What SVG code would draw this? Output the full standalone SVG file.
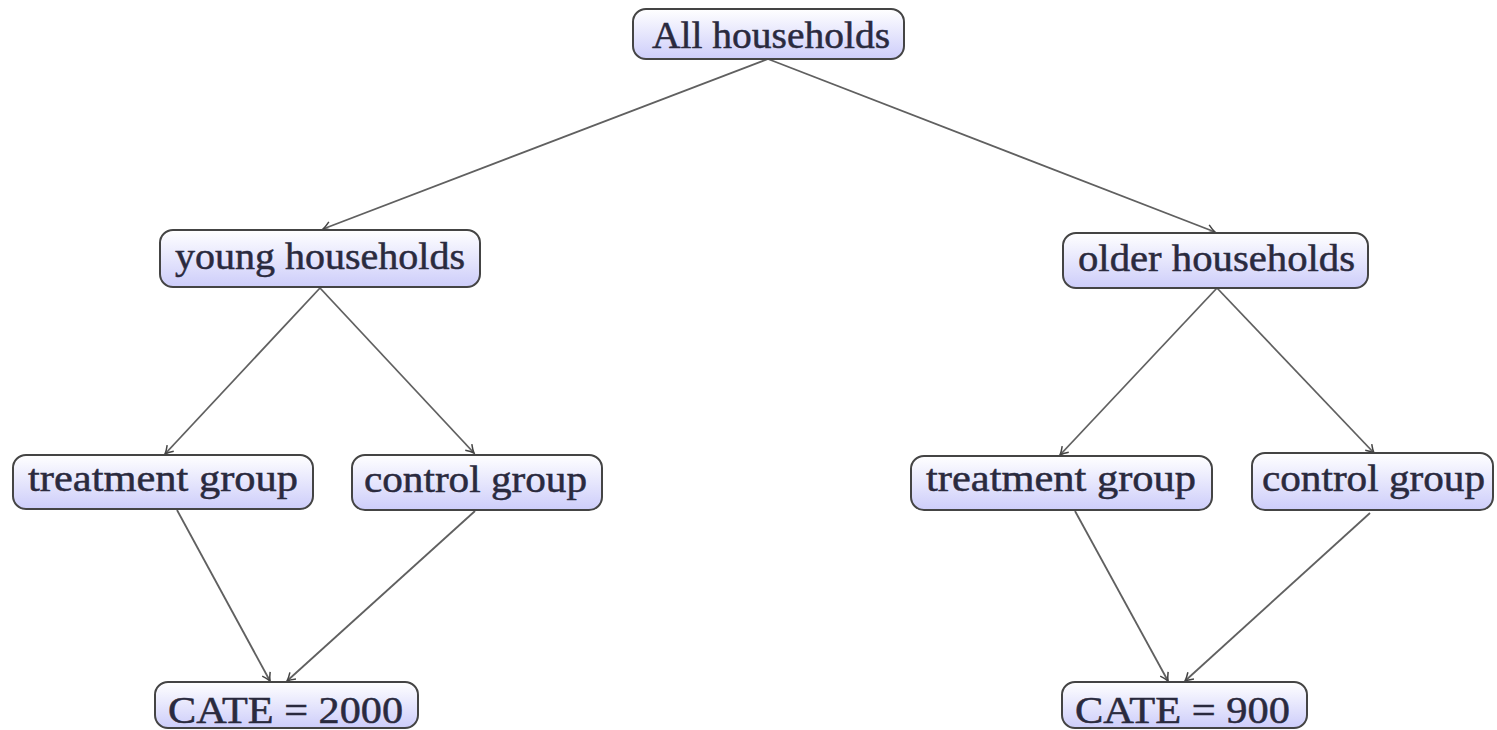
<svg xmlns="http://www.w3.org/2000/svg" width="1497" height="730" viewBox="0 0 1497 730">
  <defs>
    <linearGradient id="boxFill" x1="0" y1="0" x2="0" y2="1">
      <stop offset="0" stop-color="#ffffff"/>
      <stop offset="1" stop-color="#cdcdfa"/>
    </linearGradient>
    <marker id="tip" viewBox="-10 -6 12 12" refX="0" refY="0" markerWidth="12" markerHeight="12" markerUnits="userSpaceOnUse" orient="auto">
      <path d="M-8,-4.5 Q-3,-1 0,0 Q-3,1 -8,4.5" fill="none" stroke="#444" stroke-width="1.5"/>
    </marker>
    <style>
      .box { fill: url(#boxFill); stroke: #444; stroke-width: 2; }
      .lbl { font-family: "Liberation Serif", "DejaVu Serif", serif; font-size: 38px; fill: #2a2a3e; stroke: #2a2a3e; stroke-width: 0.5; text-anchor: start; }
      .edge { fill: none; stroke: #606060; stroke-width: 1.8; marker-end: url(#tip); }
    </style>
  </defs>

  <g id="connectors">
    <line class="edge" x1="768" y1="59" x2="323" y2="229"/>
    <line class="edge" x1="768" y1="59" x2="1215" y2="232"/>
    <line class="edge" x1="320" y1="288" x2="165" y2="454"/>
    <line class="edge" x1="320" y1="288" x2="474" y2="453"/>
    <line class="edge" x1="1217" y1="288" x2="1060" y2="455"/>
    <line class="edge" x1="1217" y1="288" x2="1374" y2="453"/>
    <line class="edge" x1="177" y1="510" x2="270" y2="681"/>
    <line class="edge" x1="475" y1="511" x2="287" y2="681"/>
    <line class="edge" x1="1075" y1="511" x2="1168" y2="681"/>
    <line class="edge" x1="1370" y1="513" x2="1185" y2="681"/>
  </g>

  <g id="all-households">
    <rect class="box" x="633" y="9" width="271" height="50" rx="13"/>
    <text class="lbl" x="652" y="48" textLength="238" lengthAdjust="spacingAndGlyphs">All households</text>
  </g>

  <g id="young-households">
    <rect class="box" x="160" y="230" width="320" height="57" rx="13"/>
    <text class="lbl" x="175" y="269" textLength="290" lengthAdjust="spacingAndGlyphs">young households</text>
  </g>

  <g id="older-households">
    <rect class="box" x="1063" y="233" width="305" height="55" rx="13"/>
    <text class="lbl" x="1078" y="271" textLength="277" lengthAdjust="spacingAndGlyphs">older households</text>
  </g>

  <g id="young-treatment">
    <rect class="box" x="13" y="455" width="300" height="54" rx="13"/>
    <text class="lbl" x="28" y="491" textLength="270" lengthAdjust="spacingAndGlyphs">treatment group</text>
  </g>

  <g id="young-control">
    <rect class="box" x="352" y="455" width="250" height="55" rx="13"/>
    <text class="lbl" x="364" y="492" textLength="223" lengthAdjust="spacingAndGlyphs">control group</text>
  </g>

  <g id="older-treatment">
    <rect class="box" x="911" y="456" width="301" height="54" rx="13"/>
    <text class="lbl" x="926" y="491" textLength="270" lengthAdjust="spacingAndGlyphs">treatment group</text>
  </g>

  <g id="older-control">
    <rect class="box" x="1252" y="453" width="241" height="57" rx="13"/>
    <text class="lbl" x="1262" y="491" textLength="223" lengthAdjust="spacingAndGlyphs">control group</text>
  </g>

  <g id="cate-young">
    <rect class="box" x="155" y="682" width="263" height="46" rx="13"/>
    <text class="lbl" x="168" y="723" textLength="235" lengthAdjust="spacingAndGlyphs">CATE = 2000</text>
  </g>

  <g id="cate-older">
    <rect class="box" x="1062" y="682" width="245" height="46" rx="13"/>
    <text class="lbl" x="1075" y="723" textLength="215" lengthAdjust="spacingAndGlyphs">CATE = 900</text>
  </g>
</svg>
